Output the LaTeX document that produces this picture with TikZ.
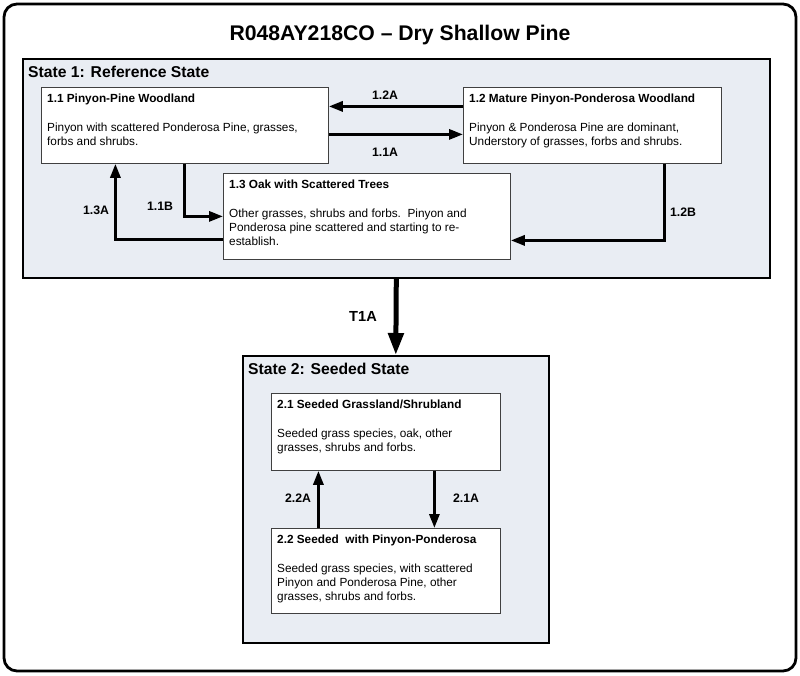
\documentclass[tikz,border=0pt]{standalone}
\usepackage{fontspec}
\setmainfont{Liberation Sans}
\usetikzlibrary{arrows.meta}
\definecolor{statefill}{RGB}{233,237,243}
\begin{document}
\begin{tikzpicture}[x=1pt,y=-1pt,
  state/.style={draw=black, line width=1.6pt, fill=statefill, anchor=north west, inner sep=0pt},
  phase/.style={draw=black!75, line width=0.8pt, fill=white, anchor=north west, inner sep=0pt},
  phasetext/.style={anchor=north west, inner xsep=6pt, inner ysep=7pt, align=left,
    font=\fontsize{11.8}{14.3}\selectfont},
  statetext/.style={anchor=north west, inner xsep=6pt, inner ysep=8pt,
    font=\fontsize{15.7}{18}\selectfont\bfseries},
  trans/.style={line width=3pt, -{Triangle[length=14pt,width=10pt]}},
  lbl/.style={font=\fontsize{12.3}{14}\selectfont\bfseries}]
\useasboundingbox (0,0) rectangle (800,675);
\draw[line width=2.8pt, rounded corners=13pt] (4,4) rectangle (796,671);
\node[anchor=base, font=\fontsize{21.2}{24}\selectfont\bfseries] (title) at (400,40)
  {R048AY218CO -- Dry Shallow Pine};
% state 1
\node[state, minimum width=747, minimum height=219] (s1) at (22,58) {};
\node[statetext] (s1t) at (s1.north west) {State 1: Reference State};
\node[phase, minimum width=287, minimum height=76] (p11) at (41,87) {};
\node[phasetext] (p11t) at (p11.north west)
  {\textbf{1.1 Pinyon-Pine Woodland}\\[14.3pt]
   Pinyon with scattered Ponderosa Pine, grasses,\\ forbs and shrubs.};
\node[phase, minimum width=258, minimum height=76] (p12) at (463,87) {};
\node[phasetext] (p12t) at (p12.north west)
  {\textbf{1.2 Mature Pinyon-Ponderosa Woodland}\\[14.3pt]
   Pinyon \& Ponderosa Pine are dominant,\\ Understory of grasses, forbs and shrubs.};
\node[phase, minimum width=287, minimum height=86] (p13) at (223,173) {};
\node[phasetext] (p13t) at (p13.north west)
  {\textbf{1.3 Oak with Scattered Trees}\\[14.3pt]
   Other grasses, shrubs and forbs.\ \ Pinyon and\\
   Ponderosa pine scattered and starting to re-\\ establish.};
% state 2
\node[state, minimum width=306, minimum height=287] (s2) at (242,355) {};
\node[statetext] (s2t) at (s2.north west) {State 2: Seeded State};
\node[phase, minimum width=229, minimum height=77] (p21) at (271,393) {};
\node[phasetext] (p21t) at (p21.north west)
  {\textbf{2.1 Seeded Grassland/Shrubland}\\[14.3pt]
   Seeded grass species, oak, other\\ grasses, shrubs and forbs.};
\node[phase, minimum width=229, minimum height=85] (p22) at (271,528) {};
\node[phasetext] (p22t) at (p22.north west)
  {\textbf{2.2 Seeded\ \ with Pinyon-Ponderosa}\\[14.3pt]
   Seeded grass species, with scattered\\ Pinyon and Ponderosa Pine, other\\
   grasses, shrubs and forbs.};
% transitions
\draw[trans] ([yshift=19pt]p12.west) -- ([yshift=19pt]p11.east);
\draw[trans] ([yshift=-9pt]p11.east) -- ([yshift=-9pt]p12.west);
\draw[trans] (p11.south) |- (p13.west);
\draw[trans] ([yshift=-23pt]p13.west) -| ([xshift=-69.5pt]p11.south);
\draw[trans] ([xshift=72pt]p12.south) |- ([yshift=-24pt]p13.east);
\draw[line width=5pt, -{Triangle[length=22pt,width=15pt]}] (s1.south) -- (s2.north);
\draw[trans] ([xshift=48.5pt]p21.south) -- ([xshift=48.5pt]p22.north);
\draw[trans] ([xshift=-67.5pt]p22.north) -- ([xshift=-67.5pt]p21.south);
\node[lbl] (l12a) at (385,95) {1.2A};
\node[lbl] (l11a) at (385,152) {1.1A};
\node[lbl] (l11b) at (160,206) {1.1B};
\node[lbl] (l13a) at (96,210) {1.3A};
\node[lbl] (l12b) at (683,212) {1.2B};
\node[lbl, font=\fontsize{14.6}{16}\selectfont\bfseries] (lt1a) at (363,316) {T1A};
\node[lbl] (l22a) at (298,498) {2.2A};
\node[lbl] (l21a) at (466,498) {2.1A};
\end{tikzpicture}
\end{document}
